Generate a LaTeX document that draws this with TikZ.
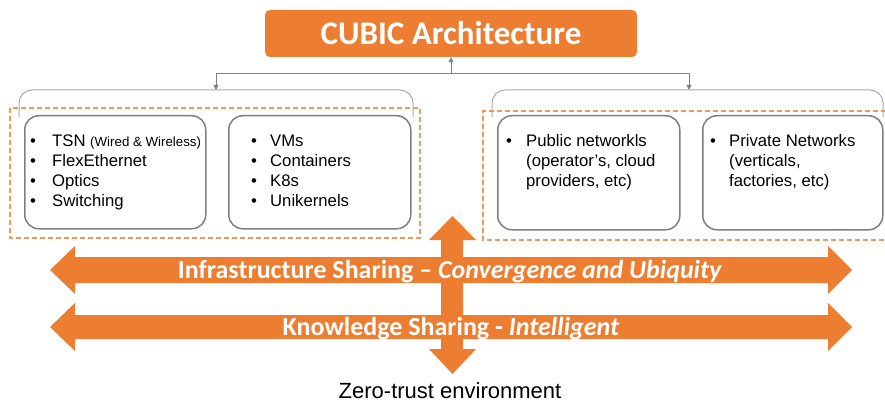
\documentclass[tikz,border=0pt]{standalone}
\usepackage{fontspec}
\setmainfont{Liberation Sans}
\newfontfamily\calib{Carlito}
\usetikzlibrary{arrows.meta}
\definecolor{orng}{HTML}{ED7D31}
\definecolor{dashor}{HTML}{F0975A}
\definecolor{boxgray}{HTML}{7F7F7F}
\definecolor{bracegray}{HTML}{ABABAB}
\definecolor{conngray}{HTML}{808080}
\begin{document}
\begin{tikzpicture}[x=1pt,y=-1pt,
  ibox/.style={draw=boxgray, line width=1.5pt, rounded corners=14pt, inner sep=0pt, anchor=north west},
  dbox/.style={draw=dashor, line width=1.2pt, dash pattern=on 5pt off 3pt},
  bracel/.style={draw=bracegray, line width=1pt, rounded corners=13pt},
  conn/.style={draw=conngray, line width=0.8pt},
  tip/.style={-{Triangle[length=5pt,width=5pt]}},
  listtext/.style={inner sep=0pt, anchor=base west, font=\fontsize{16.7}{20}\selectfont},
  bandtext/.style={inner sep=0pt, anchor=base, text=white, font={\calib\bfseries\fontsize{26}{30}\selectfont}},
  bigarrow/.style={fill=orng}
]
\useasboundingbox (0,0) rectangle (885,401);

% title
\node[fill=orng, rounded corners=5pt, minimum width=372pt, minimum height=47pt, inner sep=0pt,
      text=white, font={\calib\bfseries\fontsize{33}{36}\selectfont}] (title) at (451,33.5) {CUBIC Architecture};

% connectors
\coordinate (hub) at (451,73);
\coordinate (jl) at (216,73);
\coordinate (jr) at (689,73);
\coordinate (bl) at (216,90);
\coordinate (br) at (689,90);
\draw[conn] (jl) -- (jr);
\draw[conn,tip] (hub) -- (hub |- title.south);
\draw[conn,tip] (jl) -- (bl);
\draw[conn,tip] (jr) -- (br);

% braces
\draw[bracel] (19,117) -- (19,90) -- (413,90) -- (413,117);
\draw[bracel] (492,117) -- (492,90) -- (883,90) -- (883,117);

% dashed group boxes
\draw[dbox] (10,108) rectangle (420,238);
\draw[dbox] (886,111) -- (483,111) -- (483,240) -- (886,240);

% inner boxes
\node[ibox, minimum width=181pt, minimum height=113pt] (b1) at (24,115) {};
\node[ibox, minimum width=182pt, minimum height=113pt] (b2) at (228,115) {};
\node[ibox, minimum width=182pt, minimum height=114pt] (b3) at (497,115) {};
\node[ibox, minimum width=180pt, minimum height=114pt] (b4) at (702,115) {};

% list texts
\node[listtext] (t1) at (30,146.7) {\begin{tabular}[t]{@{}p{22pt}@{}l@{}}
  • & TSN {\fontsize{13.3}{20}\selectfont(Wired \& Wireless)}\\
  • & FlexEthernet\\
  • & Optics\\
  • & Switching
\end{tabular}};
\node[listtext] (t2) at (251,146.7) {\begin{tabular}[t]{@{}p{19pt}@{}l@{}}
  • & VMs\\
  • & Containers\\
  • & K8s\\
  • & Unikernels
\end{tabular}};
\node[listtext] (t3) at (506,146.7) {\begin{tabular}[t]{@{}p{20pt}@{}l@{}}
  • & Public networkls\\
    & (operator’s, cloud\\
    & providers, etc)
\end{tabular}};
\node[listtext] (t4) at (710,146.7) {\begin{tabular}[t]{@{}p{19pt}@{}l@{}}
  • & Private Networks\\
    & (verticals,\\
    & factories, etc)
\end{tabular}};

% big arrows
\fill[bigarrow] (50,270) -- (75,246) -- (75,257) -- (828,257) -- (828,246) -- (852,270)
   -- (828,294) -- (828,283) -- (75,283) -- (75,294) -- cycle;
\fill[bigarrow] (50,327) -- (75,303) -- (75,315) -- (828,315) -- (828,303) -- (852,327)
   -- (828,351) -- (828,339) -- (75,339) -- (75,351) -- cycle;
\fill[bigarrow] (452.5,216) -- (476,240) -- (463,240) -- (463,349) -- (476,349) -- (452.5,374)
   -- (429,349) -- (441,349) -- (441,240) -- (429,240) -- cycle;

\node[bandtext] (infra) at (450,278.5) {Infrastructure Sharing – \textit{Convergence and Ubiquity}};
\node[bandtext] (know) at (451,335.5) {Knowledge Sharing - \textit{Intelligent}};

\node[inner sep=0pt, anchor=base, font=\fontsize{22}{24}\selectfont] (zt) at (450,398) {Zero-trust environment};
\end{tikzpicture}
\end{document}
